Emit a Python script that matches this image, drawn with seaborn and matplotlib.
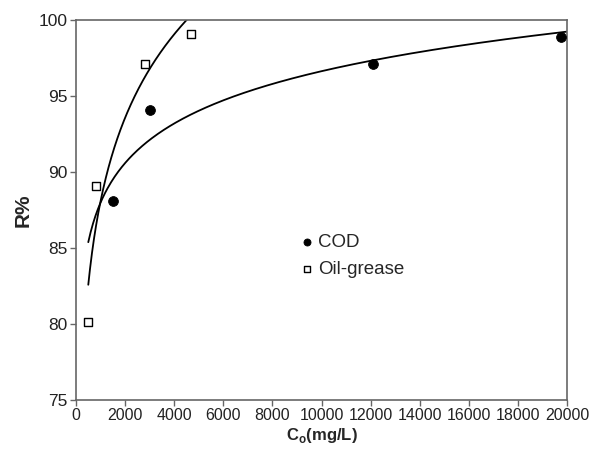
import numpy as np
import pandas as pd
import matplotlib
matplotlib.use("Agg")
import matplotlib.pyplot as plt
import seaborn as sns

cod_x = [1500, 3000, 12100, 19750]
cod_y = [88.1, 94.1, 97.1, 98.85]
oil_x = [490, 800, 2830, 4680]
oil_y = [80.1, 89.05, 97.1, 99.1]
x_ticks = [0, 2000, 4000, 6000, 8000, 10000, 12000, 14000, 16000, 18000, 20000]
y_ticks = [75, 80, 85, 90, 95, 100]

sns.set_theme(style="white")
plt.rcParams['font.family'] = ['Liberation Sans', 'DejaVu Sans']

fig, ax = plt.subplots(figsize=(5.91, 4.51), dpi=100)
fig.subplots_adjust(left=0.1286, right=0.9594, top=0.9557, bottom=0.1131)

# logarithmic trendlines fitted to the data (as in the original)
def logfit(x, y, xs):
    a, b = np.polyfit(np.log(x), y, 1)
    return a * np.log(xs) + b

xs_cod = np.linspace(500, 20000, 400)
xs_oil = np.linspace(500, 6000, 400)
cod_fit = pd.DataFrame({"x": xs_cod, "y": logfit(cod_x, cod_y, xs_cod)})
oil_fit = pd.DataFrame({"x": xs_oil, "y": logfit(oil_x, oil_y, xs_oil)})
sns.lineplot(data=cod_fit, x="x", y="y", ax=ax, color="black", linewidth=1.3)
sns.lineplot(data=oil_fit, x="x", y="y", ax=ax, color="black", linewidth=1.3)

sns.scatterplot(x=cod_x, y=cod_y, ax=ax, marker="o", s=50, color="black",
                edgecolor="black", label="COD", zorder=3)
sns.scatterplot(x=oil_x, y=oil_y, ax=ax, marker="s", s=40, facecolor="white",
                edgecolor="black", linewidth=1.0, label="Oil-grease", zorder=3)

ax.set_xlim(0, 20000)
ax.set_ylim(75, 100)
ax.set_xticks(x_ticks)
ax.set_xticklabels([str(t) for t in x_ticks])
ax.set_yticks(y_ticks)
ax.set_yticklabels([str(t) for t in y_ticks])
ax.tick_params(axis="both", direction="out", length=4, width=1, color="#666666",
               labelcolor="#222222", pad=2)
ax.tick_params(axis="x", bottom=True, labelsize=11.5)
ax.tick_params(axis="y", left=True, labelsize=12.5)
for sp in ax.spines.values():
    sp.set_color("#666666")
    sp.set_linewidth(1.2)

ax.set_xlabel(r"C$_\mathregular{o}$(mg/L)", fontsize=12, fontweight="bold", labelpad=2)
ax.set_ylabel("R%", fontsize=15, fontweight="bold", labelpad=4)

leg = ax.legend(loc="upper left", bbox_to_anchor=(0.44, 0.458), frameon=False,
                fontsize=13.5, handlelength=0.8, handletextpad=0.2,
                labelspacing=0.56, borderaxespad=0, markerscale=0.72)

fig.savefig("out.png", dpi=100)
